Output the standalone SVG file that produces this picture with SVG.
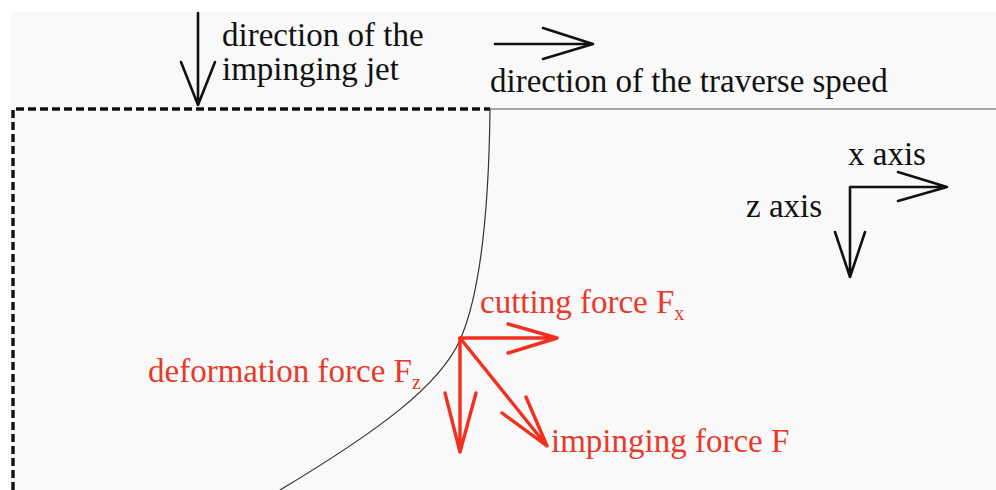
<svg xmlns="http://www.w3.org/2000/svg" width="996" height="490" viewBox="0 0 996 490">
<defs>
<style>
.t{font-family:"Liberation Serif","Times New Roman",serif;font-size:33px;}
.blk{fill:#111;}
.red{fill:#e8392b;}
.sub{font-size:20px;}
.ab{fill:none;stroke:#111;stroke-width:2.6;stroke-linecap:round;stroke-linejoin:round;}
.ar{fill:none;stroke:#f2301f;stroke-width:3.4;stroke-linecap:round;stroke-linejoin:round;}
</style>
</defs>
<rect x="0" y="0" width="996" height="490" fill="#ffffff"/>
<rect x="11" y="12" width="985" height="478" fill="#f9f9f9"/>
<g id="workpiece">
<path d="M13,490 V109 H490" fill="none" stroke="#111" stroke-width="3.4" stroke-dasharray="8,4"/>
<line x1="490" y1="109" x2="996" y2="109" stroke="#555" stroke-width="1.2"/>
<path d="M490,109 C489,200 482,290 460,340 C440,385 380,430 280,490" fill="none" stroke="#333" stroke-width="1.2"/>
</g>
<g id="connectors">
<path class="ab" d="M198,13 V105 M181,62 L198,105 L215,62"/>
<path class="ab" d="M495,44 H593 M543,28 L593,44 L543,59"/>
<path class="ab" d="M850,277 V187 H947 M898,172 L947,187 L898,201 M835,232 L850,277 L865,232"/>
<path class="ar" d="M460,338 H557 M508,324 L557,338 L508,353"/>
<path class="ar" d="M460,338 V452 M445,393 L460,452 L476,393"/>
<path class="ar" d="M460,338 L547,446 M502,413 L547,446 L526,397"/>
</g>
<g id="jet-label"><text class="t blk" x="222" y="46">direction of the</text><text class="t blk" x="222" y="80">impinging jet</text></g>
<g id="traverse-label"><text class="t blk" x="490" y="92">direction of the traverse speed</text></g>
<g id="x-axis-label"><text class="t blk" x="848" y="165">x axis</text></g>
<g id="z-axis-label"><text class="t blk" x="746" y="217">z axis</text></g>
<g id="cutting-label"><text class="t red" x="480" y="313">cutting force F<tspan class="sub" dy="7">x</tspan></text></g>
<g id="deformation-label"><text class="t red" x="148" y="382">deformation force F<tspan class="sub" dy="7">z</tspan></text></g>
<g id="impinging-label"><text class="t red" x="551" y="452">impinging force F</text></g>
</svg>
